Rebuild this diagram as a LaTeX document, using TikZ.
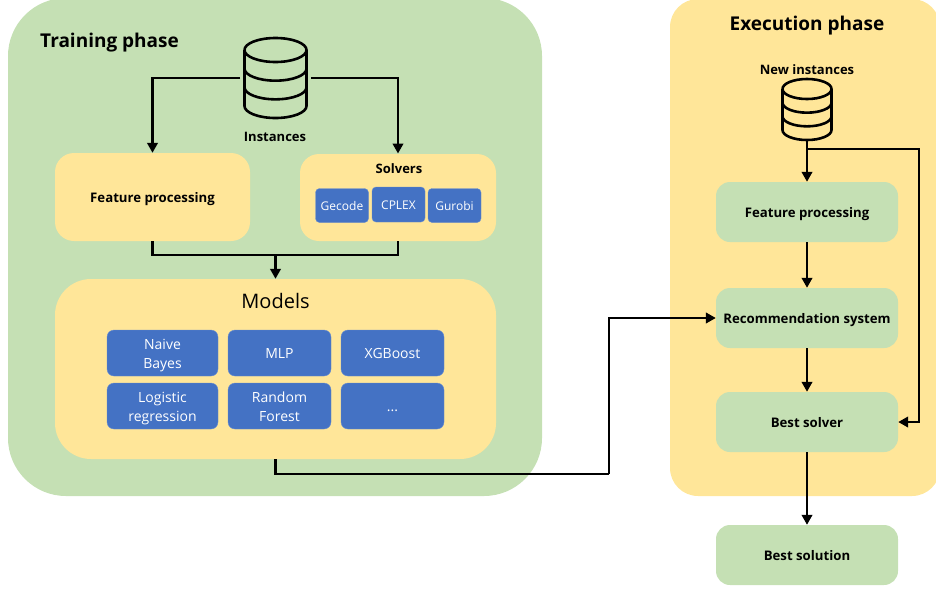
\documentclass[tikz,border=0pt]{standalone}
\usepackage{fontspec}
\setmainfont{Open Sans}
\usetikzlibrary{arrows.meta,calc}
\definecolor{pgreen}{HTML}{C5E0B4}
\definecolor{pyellow}{HTML}{FFE699}
\definecolor{pblue}{HTML}{4472C4}
\tikzset{
  greenbox/.style={fill=pgreen,rounded corners=14pt,minimum width=182pt,minimum height=60pt,inner sep=0pt,text height=10pt,text depth=0pt,font=\fontsize{13.2}{16}\selectfont\bfseries},
  yellowbox/.style={fill=pyellow,rounded corners=19pt,inner sep=0pt},
  bluebox/.style={fill=pblue,draw=pblue!80!white,line width=0.4pt,rounded corners=7pt,inner sep=0pt,text=white,align=center,text height=10pt,text depth=0pt,font=\fontsize{14}{19}\selectfont},
  smallblue/.style={bluebox,minimum width=53pt,minimum height=34pt,rounded corners=4pt,font=\fontsize{12}{14}\selectfont},
  modelbox/.style={bluebox,minimum height=46pt},
  twoline/.style={text height=30pt,text depth=0pt},
  labeltext/.style={inner sep=0pt,text height=10pt,text depth=0pt,font=\fontsize{13}{16}\selectfont\bfseries},
  titletext/.style={inner sep=0pt,text height=14pt,text depth=0pt,font=\fontsize{19}{24}\selectfont\bfseries},
  conn/.style={line width=2.4pt,draw=black},
  arrow/.style={conn,-{Triangle[length=10pt,width=10.5pt]}},
  dbicon/.style={line width=2.6pt,draw=black,fill=none},
}
\newcommand{\drawdb}[5]{% cx, top, bottom, half width, ellipse ry
  \begin{scope}[dbicon]
    \draw (#1-#4,#2+#5) arc[start angle=180,end angle=-180,x radius=#4,y radius=#5];
    \draw (#1-#4,#2+#5) -- (#1-#4,#3-#5) arc[start angle=180,end angle=360,x radius=#4,y radius=-#5] -- (#1+#4,#2+#5);
    \draw (#1-#4,{#2+#5+(#3-#2-2*#5)/3}) arc[start angle=180,end angle=360,x radius=#4,y radius=-#5];
    \draw (#1-#4,{#2+#5+2*(#3-#2-2*#5)/3}) arc[start angle=180,end angle=360,x radius=#4,y radius=-#5];
  \end{scope}}
\begin{document}
\begin{tikzpicture}[x=1pt,y=-1pt]
\useasboundingbox (0,0) rectangle (936,592);
\begin{scope}
\clip (0,0) rectangle (936,592);
\fill[pgreen,rounded corners=58pt] (8,-2) rectangle (542,496);
\fill[pyellow,rounded corners=28pt] (670,-1) rectangle (940,496);
\end{scope}
\node[titletext,anchor=west] (trainlabel) at (40,40) {Training phase};
\node[titletext] (execlabel) at (807,23) {Execution phase};
% training
\node[minimum width=63pt,minimum height=80pt,inner sep=0pt] (db) at (275.5,78) {};
\drawdb{275.5}{38}{118}{31}{12}
\node[labeltext] (inst) at (275,136) {Instances};
\node[yellowbox,minimum width=195pt,minimum height=88pt] (fp) at (152.5,197) {};
\node[labeltext,font=\fontsize{13.2}{16}\selectfont\bfseries] (fptext) at (fp.center) {Feature processing};
\node[yellowbox,minimum width=196pt,minimum height=87pt] (solvers) at (398,197.5) {};
\node[labeltext] (solvtext) at (399,168.5) {Solvers};
\node[smallblue] (gecode) at (342,205.5) {Gecode};
\node[smallblue,minimum height=35pt] (cplex) at (398.5,204.5) {CPLEX};
\node[smallblue] (gurobi) at (454.5,205.5) {Gurobi};
\node[yellowbox,rounded corners=36pt,minimum width=441pt,minimum height=180pt] (models) at (275.5,369) {};
\node[inner sep=0pt,font=\fontsize{20}{24}\selectfont] (modtext) at (275.5,301) {Models};
\node[modelbox,twoline,minimum width=111pt] (nb) at (162.5,353) {Naive\\Bayes};
\node[modelbox,minimum width=103pt] (mlp) at (279.5,353) {MLP};
\node[modelbox,minimum width=103pt] (xgb) at (392.5,353) {XGBoost};
\node[modelbox,twoline,minimum width=111pt] (lr) at (162.5,406) {Logistic\\regression};
\node[modelbox,twoline,minimum width=103pt] (rf) at (279.5,406) {Random\\Forest};
\node[modelbox,minimum width=103pt] (more) at (392.5,406) {...};
% execution
\node[labeltext] (newinst) at (807,69) {New instances};
\node[minimum width=50pt,minimum height=61pt,inner sep=0pt] (db2) at (807,109.5) {};
\drawdb{807}{79}{140}{24.5}{10}
\node[greenbox] (efp) at (807,212) {Feature processing};
\node[greenbox] (rec) at (807,318) {Recommendation system};
\node[greenbox] (best) at (807,422) {Best solver};
\node[greenbox] (sol) at (807,555) {Best solution};
% connectors
\coordinate (dbl) at (240,78);
\coordinate (dbr) at (311,78);
\coordinate (jn) at (275.5,255);
\coordinate (mout) at (275.5,474);
\coordinate (turn) at (609,474);
\coordinate (split) at (807,149);
\coordinate (right) at (919,149);
\coordinate (solvin) at (398,153.5);
\draw[arrow] (dbl) -| (fp.north);
\draw[arrow] (dbr) -| (solvin);
\draw[conn] (fp.south) |- (jn) -| (solvers.south);
\draw[arrow] (jn) -- (models.north);
\draw[conn] (models.south) |- (turn);
\draw[arrow] (turn) |- (rec.west);
\draw[arrow] (db2.south) -- (efp.north);
\draw[arrow] (split) -- (right) |- (best.east);
\draw[arrow] (efp.south) -- (rec.north);
\draw[arrow] (rec.south) -- (best.north);
\draw[arrow] (best.south) -- (sol.north);
\end{tikzpicture}
\end{document}
